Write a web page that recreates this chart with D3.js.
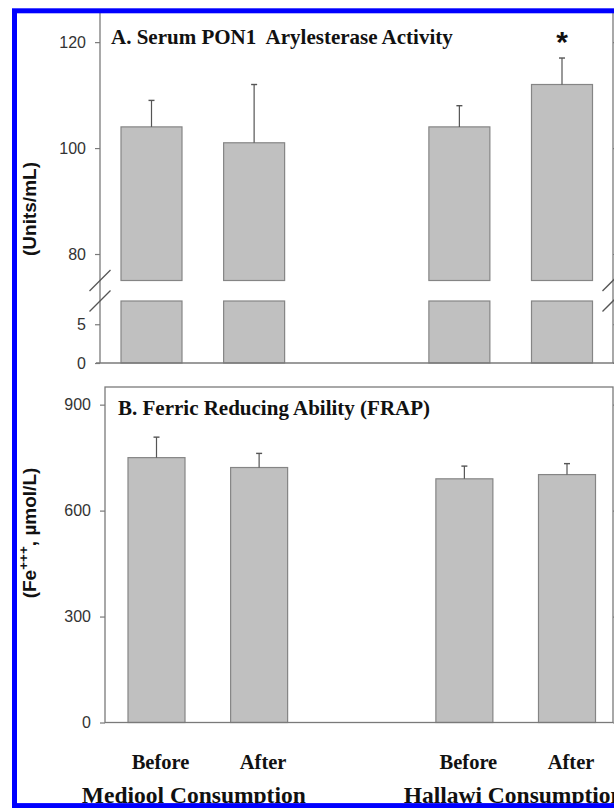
<!DOCTYPE html>
<html><head><meta charset="utf-8">
<script src="https://cdn.jsdelivr.net/npm/d3@7"></script>
<style>
html,body{margin:0;padding:0;background:#fff;}
svg{display:block;}
</style></head>
<body>
<script>
// ---- data ----
const groups = ["Mediool Consumption", "Hallawi Consumption"];
const periods = ["Before", "After"];
const slots = ["Mediool|Before", "Mediool|After", "gap", "Hallawi|Before", "Hallawi|After"];
const barKeys = ["Mediool|Before", "Mediool|After", "Hallawi|Before", "Hallawi|After"];
const ponMean = [104, 101, 104, 112];
const ponSE = [5, 11, 4, 5];
const ponSig = [false, false, false, true];
const frapMean = [750, 722, 690, 702];
const frapSE = [58, 40, 36, 31];
const ponUpperTicks = [80, 100, 120];
const ponLowerTicks = [0, 5];
const frapTicks = [0, 300, 600, 900];
const titleA = "A. Serum PON1\u00a0 Arylesterase Activity";
const titleB = "B. Ferric Reducing Ability (FRAP)";
const yLabelA = "(Units/mL)";

const W = 614, H = 808;
const svg = d3.select("body").append("svg").attr("width", W).attr("height", H);
const axisCol = "#7a7a7a", barFill = "#c0c0c0", barStroke = "#858585", errCol = "#555";
const serif = "'Liberation Serif','Times New Roman',serif";
const sans = "'Liberation Sans',Arial,sans-serif";

// ---- Panel A scales ----
const xA = d3.scalePoint().domain(slots).range([151.5, 562]);
const yAU = d3.scaleLinear().domain([75, 125.5]).range([280.5, 13]);
const yAL = d3.scaleLinear().domain([0, 8]).range([363, 301]);
const bwA = 61;

const gA = svg.append("g");
gA.selectAll("rect.up").data(barKeys).join("rect")
  .attr("x", d => xA(d) - bwA / 2).attr("width", bwA)
  .attr("y", (d, i) => yAU(ponMean[i])).attr("height", (d, i) => yAU(75) - yAU(ponMean[i]))
  .attr("fill", barFill).attr("stroke", barStroke).attr("stroke-width", 1.2);
gA.selectAll("rect.lo").data(barKeys).join("rect")
  .attr("x", d => xA(d) - bwA / 2).attr("width", bwA)
  .attr("y", yAL(8)).attr("height", yAL(0) - yAL(8))
  .attr("fill", barFill).attr("stroke", barStroke).attr("stroke-width", 1.2);
barKeys.forEach((k, i) => {
  const cx = xA(k);
  gA.append("line").attr("x1", cx).attr("x2", cx)
    .attr("y1", yAU(ponMean[i])).attr("y2", yAU(ponMean[i] + ponSE[i]))
    .attr("stroke", errCol).attr("stroke-width", 1.2);
  gA.append("line").attr("x1", cx - 3).attr("x2", cx + 3)
    .attr("y1", yAU(ponMean[i] + ponSE[i])).attr("y2", yAU(ponMean[i] + ponSE[i]))
    .attr("stroke", errCol).attr("stroke-width", 1.4);
  if (ponSig[i]) {
    gA.append("text").attr("x", cx).attr("y", yAU(ponMean[i] + ponSE[i]) - 6)
      .attr("text-anchor", "middle").attr("font-family", sans).attr("font-weight", "bold")
      .attr("font-size", 30).attr("fill", "#111").text("*");
  }
});
const axLeft = 100;
function styleAxis(g) {
  g.select(".domain").remove();
  g.selectAll(".tick line").attr("stroke", axisCol).attr("stroke-width", 1.2);
  g.selectAll(".tick text").attr("font-family", sans).attr("font-size", 16).attr("fill", "#333");
}
svg.append("g").attr("transform", `translate(${axLeft},0)`)
  .call(d3.axisLeft(yAU).tickValues(ponUpperTicks).tickSize(5).tickPadding(9)).call(styleAxis);
svg.append("g").attr("transform", `translate(${axLeft},0)`)
  .call(d3.axisLeft(yAL).tickValues(ponLowerTicks).tickSize(5).tickPadding(9)).call(styleAxis);
svg.append("g").attr("transform", `translate(613,0)`)
  .call(d3.axisRight(yAU).tickValues(ponUpperTicks).tickSize(5).tickFormat("")).call(styleAxis);
svg.append("g").attr("transform", `translate(613,0)`)
  .call(d3.axisRight(yAL).tickValues(ponLowerTicks).tickSize(5).tickFormat("")).call(styleAxis);
svg.append("line").attr("x1", axLeft).attr("x2", axLeft).attr("y1", 13).attr("y2", yAL(0))
  .attr("stroke", axisCol).attr("stroke-width", 1.3);
svg.append("line").attr("x1", 613).attr("x2", 613).attr("y1", 13).attr("y2", yAL(0))
  .attr("stroke", axisCol).attr("stroke-width", 1.3);
svg.append("line").attr("x1", 96).attr("x2", W).attr("y1", yAL(0)).attr("y2", yAL(0))
  .attr("stroke", axisCol).attr("stroke-width", 1.3);
[axLeft, 613].forEach(bx => {
  [yAU(75), yAL(8)].forEach(by => {
    svg.append("line").attr("x1", bx - 10.5).attr("x2", bx + 10.5)
      .attr("y1", by + 10.5).attr("y2", by - 10.5)
      .attr("stroke", "#555").attr("stroke-width", 1.3);
  });
});
svg.append("text").attr("x", 111).attr("y", 44).attr("font-family", serif).attr("font-weight", "bold")
  .attr("font-size", 21).attr("fill", "#111").attr("xml:space", "preserve").text(titleA);
svg.append("text").attr("transform", "translate(36,209) rotate(-90)").attr("text-anchor", "middle")
  .attr("font-family", sans).attr("font-weight", "bold").attr("font-size", 19).attr("fill", "#111")
  .text(yLabelA);

// ---- Panel B ----
const xB = d3.scalePoint().domain(slots).range([156.5, 567]);
const yB = d3.scaleLinear().domain([0, 950]).range([722.5, 387]);
const bwB = 57;
const gB = svg.append("g");
gB.selectAll("rect").data(barKeys).join("rect")
  .attr("x", d => xB(d) - bwB / 2).attr("width", bwB)
  .attr("y", (d, i) => yB(frapMean[i])).attr("height", (d, i) => yB(0) - yB(frapMean[i]))
  .attr("fill", barFill).attr("stroke", barStroke).attr("stroke-width", 1.2);
barKeys.forEach((k, i) => {
  const cx = xB(k);
  gB.append("line").attr("x1", cx).attr("x2", cx)
    .attr("y1", yB(frapMean[i])).attr("y2", yB(frapMean[i] + frapSE[i]))
    .attr("stroke", errCol).attr("stroke-width", 1.2);
  gB.append("line").attr("x1", cx - 3).attr("x2", cx + 3)
    .attr("y1", yB(frapMean[i] + frapSE[i])).attr("y2", yB(frapMean[i] + frapSE[i]))
    .attr("stroke", errCol).attr("stroke-width", 1.4);
});
svg.append("rect").attr("x", 105).attr("y", yB(950)).attr("width", 613 - 105).attr("height", yB(0) - yB(950))
  .attr("fill", "none").attr("stroke", axisCol).attr("stroke-width", 1.3);
svg.append("g").attr("transform", "translate(105,0)")
  .call(d3.axisLeft(yB).tickValues(frapTicks).tickSize(5).tickPadding(9)).call(styleAxis);
svg.append("g").attr("transform", "translate(613,0)")
  .call(d3.axisRight(yB).tickValues(frapTicks).tickSize(5).tickFormat("")).call(styleAxis);
svg.append("text").attr("x", 118).attr("y", 415).attr("font-family", serif).attr("font-weight", "bold")
  .attr("font-size", 21).attr("fill", "#111").text(titleB);
const yLabB = svg.append("text").attr("transform", "translate(36,533) rotate(-90)").attr("text-anchor", "middle")
  .attr("font-family", sans).attr("font-weight", "bold").attr("font-size", 19).attr("fill", "#111");
yLabB.append("tspan").text("(Fe");
yLabB.append("tspan").attr("dy", -8).attr("font-size", 13.5).text("+++");
yLabB.append("tspan").attr("dy", 8).text(", \u00b5mol/L)");

// ---- x labels ----
barKeys.forEach(k => {
  const p = k.split("|")[1];
  svg.append("text").attr("x", xB(k) + 4).attr("y", 769).attr("text-anchor", "middle")
    .attr("font-family", serif).attr("font-weight", "bold").attr("font-size", 20.5).attr("fill", "#111")
    .text(periods[periods.indexOf(p)]);
});
groups.forEach((g, gi) => {
  const keys = barKeys.filter(k => k.startsWith(g.split(" ")[0]));
  const cx = (xB(keys[0]) + xB(keys[1])) / 2 - 5;
  svg.append("text").attr("x", gi === 0 ? cx - 9 : cx + 3).attr("y", 803).attr("text-anchor", "middle")
    .attr("font-family", serif).attr("font-weight", "bold").attr("font-size", 23.5).attr("fill", "#111")
    .text(g);
});

// ---- blue frame ----
svg.append("rect").attr("x", 14.5).attr("y", 10.8).attr("width", W + 20).attr("height", 794.8)
  .attr("fill", "none").attr("stroke", "#0000ff").attr("stroke-width", 5);
</script>
</body></html>
